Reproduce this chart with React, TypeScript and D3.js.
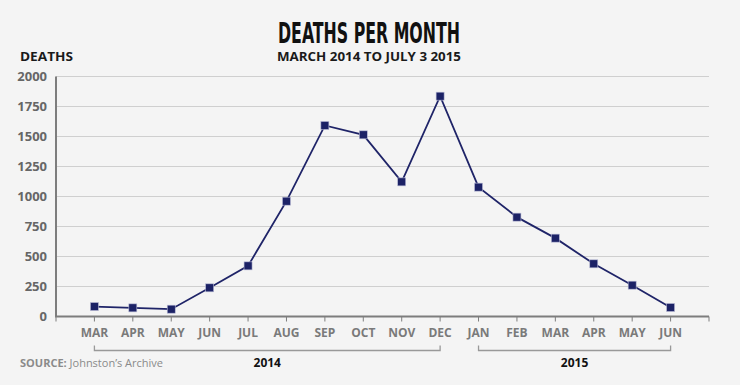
import React from 'react';
import * as d3 from 'd3';

const months = ['MAR', 'APR', 'MAY', 'JUN', 'JUL', 'AUG', 'SEP', 'OCT', 'NOV', 'DEC', 'JAN', 'FEB', 'MAR ', 'APR ', 'MAY ', 'JUN '];
const deaths = [83, 72, 61, 239, 422, 961, 1592, 1514, 1122, 1836, 1078, 828, 653, 439, 261, 75];
const yTicks = [0, 250, 500, 750, 1000, 1250, 1500, 1750, 2000];
const years = [
  { label: '2014', from: 'MAR', to: 'DEC' },
  { label: '2015', from: 'JAN', to: 'JUN ' },
];

const W = 740;
const H = 385;
const left = 56;
const right = 709;
const top = 76.5;
const bottom = 316.5;

const font = "'Open Sans', 'Liberation Sans', sans-serif";

export default function App() {
  const x = d3.scalePoint<string>().domain(months).range([left, right]).padding(1);
  const y = d3.scaleLinear().domain([0, 2000]).range([bottom, top]);

  const line = d3
    .line<number>()
    .x((d, i) => x(months[i]) as number)
    .y((d) => y(d));

  // ticks at every month plus both ends of the axis
  const tickXs = [left, ...months.map((m) => x(m) as number), right];

  return (
    <div style={{ position: 'fixed', left: 0, top: 0 }}>
      <svg width={W} height={H} style={{ display: 'block', background: '#f4f4f4' }}>
        <text
          x={369}
          y={42.5}
          textAnchor="middle"
          fontFamily="'DejaVu Sans Condensed', 'Liberation Sans Narrow', sans-serif"
          fontWeight="bold"
          fontSize={28}
          textLength={182}
          lengthAdjust="spacingAndGlyphs"
          fill="#111"
        >
          DEATHS PER MONTH
        </text>
        <text x={369} y={60.5} textAnchor="middle" fontFamily={font} fontWeight="bold" fontSize={11.5} fill="#1a1a1a" textLength={184} lengthAdjust="spacingAndGlyphs">
          MARCH 2014 TO JULY 3 2015
        </text>
        <text x={20} y={60.5} fontFamily={font} fontWeight="bold" fontSize={11.5} fill="#1a1a1a" textLength={53} lengthAdjust="spacingAndGlyphs">
          DEATHS
        </text>

        {/* grid + y labels */}
        {yTicks.map((t) => (
          <g key={t}>
            {t > 0 && <line x1={left} x2={right} y1={y(t)} y2={y(t)} stroke="#cfcfcf" strokeWidth={1.2} />}
            <text x={47} y={y(t) + 4.5} textAnchor="end" fontFamily={font} fontWeight="bold" fontSize={13} fill="#666">
              {t}
            </text>
          </g>
        ))}

        {/* axes */}
        <line x1={left} x2={left} y1={top} y2={bottom} stroke="#7d7d7d" strokeWidth={2} />
        <line x1={left - 1} x2={right} y1={bottom} y2={bottom} stroke="#7d7d7d" strokeWidth={2} />
        {tickXs.map((tx, i) => (
          <line key={i} x1={tx} x2={tx} y1={bottom} y2={bottom + 5} stroke="#7d7d7d" strokeWidth={1} />
        ))}
        {months.map((m) => (
          <text key={m} x={x(m)} y={336.5} textAnchor="middle" fontFamily={font} fontWeight="bold" fontSize={12} fill="#7a7a7a">
            {m.trim()}
          </text>
        ))}

        {/* year brackets */}
        {years.map((yr) => {
          const x0 = x(yr.from) as number;
          const x1 = x(yr.to) as number;
          return (
            <g key={yr.label}>
              <path d={`M${x0},345.5V350.5H${x1}V345.5`} fill="none" stroke="#999" strokeWidth={1.3} />
              <text x={(x0 + x1) / 2} y={367} textAnchor="middle" fontFamily={font} fontWeight="bold" fontSize={12} fill="#111">
                {yr.label}
              </text>
            </g>
          );
        })}

        <text x={20} y={366.5} fontFamily={font} fontSize={11} fill="#8a8a8a">
          <tspan fontWeight="bold">SOURCE:</tspan>
          <tspan> Johnston’s Archive</tspan>
        </text>

        {/* series */}
        <path d={line(deaths) || ''} fill="none" stroke="#1f2468" strokeWidth={1.8} />
        {deaths.map((d, i) => (
          <rect
            key={i}
            x={(x(months[i]) as number) - 4}
            y={y(d) - 4}
            width={8}
            height={8}
            fill="#1c2266"
            stroke="#b9bbd6"
            strokeWidth={0.6}
          />
        ))}
      </svg>
    </div>
  );
}
